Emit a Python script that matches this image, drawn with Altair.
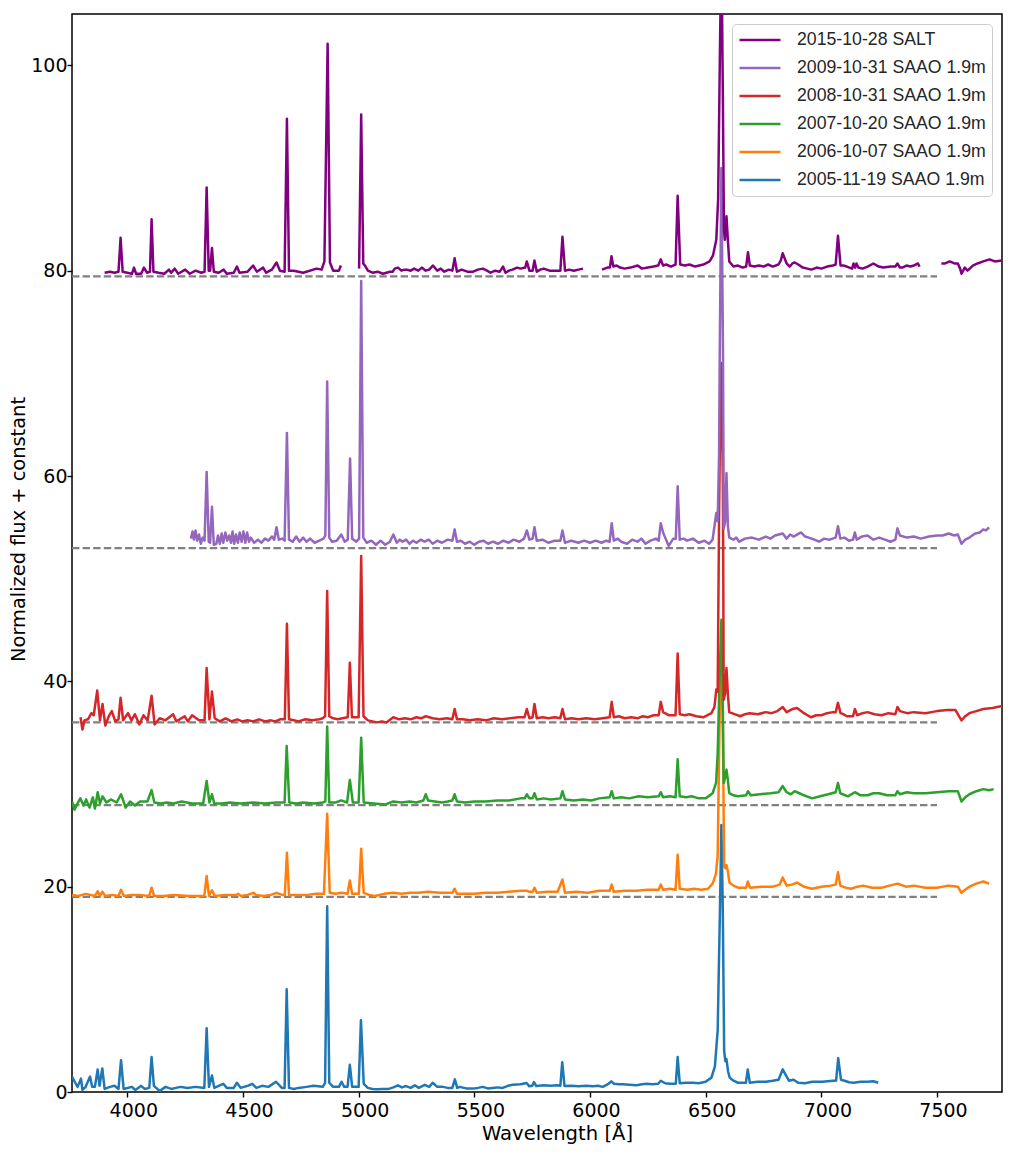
import altair as alt
import pandas as pd

# spectra: [wavelength, flux + offset], None marks a gap
salt_2015 = [
    [3902, 79.8], [3925, 79.9], [3945, 79.8], [3962, 79.9], [3971, 83.2], [3980, 79.9], [4000, 79.8], [4020, 79.7],
    [4029, 80.3], [4038, 79.7], [4060, 79.7], [4072, 80.3], [4085, 79.8], [4098, 79.9], [4105, 85.0], [4113, 79.9],
    [4135, 79.8], [4160, 79.7], [4180, 80.1], [4190, 79.8], [4205, 80.2], [4220, 79.7], [4250, 80.1], [4270, 79.7],
    [4295, 80.0], [4320, 79.8], [4334, 79.9], [4343, 88.1], [4352, 80.0], [4358, 80.0], [4366, 82.2], [4374, 79.9],
    [4395, 79.8], [4417, 80.1], [4430, 79.7], [4460, 79.8], [4474, 80.4], [4485, 79.8], [4520, 79.9], [4544, 80.5],
    [4560, 79.9], [4587, 80.3], [4600, 79.8], [4625, 80.1], [4645, 80.8], [4660, 80.0], [4680, 79.9], [4690, 94.8],
    [4699, 80.0], [4720, 80.0], [4760, 79.8], [4818, 80.2], [4840, 80.1], [4852, 80.9], [4866, 102.1], [4876, 80.8],
    [4890, 80.0], [4915, 80.0], [4923, 80.5], None,
    [5002, 80.2], [5011, 95.2], [5020, 80.7], [5030, 80.4], [5040, 80.0], [5060, 79.8], [5082, 79.9], [5105, 79.7],
    [5120, 79.8], [5135, 79.9], [5147, 79.9], [5156, 80.2], [5170, 80.3], [5185, 80.0], [5197, 80.1], [5208, 80.1],
    [5225, 80.0], [5240, 80.2], [5258, 80.0], [5273, 80.3], [5290, 80.0], [5305, 80.1], [5321, 80.5], [5340, 80.0],
    [5355, 80.2], [5370, 79.9], [5390, 80.1], [5405, 80.0], [5415, 81.2], [5425, 79.9], [5445, 80.1], [5470, 79.9],
    [5495, 79.9], [5515, 80.1], [5537, 80.2], [5555, 80.0], [5570, 79.8], [5590, 80.0], [5610, 79.9], [5624, 80.4],
    [5635, 79.8], [5650, 80.0], [5665, 80.1], [5685, 80.3], [5700, 80.2], [5720, 80.3], [5727, 80.9], [5738, 80.0],
    [5752, 80.0], [5760, 81.0], [5770, 79.9], [5785, 80.1], [5800, 80.2], [5825, 80.0], [5850, 80.0], [5872, 80.0],
    [5881, 83.3], [5892, 80.0], [5910, 80.1], [5930, 80.0], [5950, 80.1], [5970, 80.2], None,
    [6052, 80.1], [6075, 80.3], [6086, 80.3], [6093, 81.4], [6101, 80.4], [6115, 80.5], [6130, 80.3], [6150, 80.2],
    [6175, 80.3], [6206, 80.5], [6225, 80.2], [6250, 80.3], [6275, 80.4], [6295, 80.5], [6306, 81.1], [6316, 80.5],
    [6330, 80.6], [6350, 80.4], [6370, 80.6], [6379, 87.3], [6390, 80.6], [6410, 80.5], [6430, 80.6], [6455, 80.4],
    [6490, 80.6], [6517, 80.9], [6532, 81.5], [6546, 83.0], [6554, 87.0], [6561, 100.0], [6568, 112.0],
    [6574, 98.0], [6579, 84.0], [6583, 83.0], [6590, 85.3], [6596, 83.0], [6602, 80.9], [6620, 80.4], [6640, 80.5],
    [6660, 80.3], [6675, 80.4], [6683, 81.8], [6691, 80.5], [6710, 80.4], [6730, 80.5], [6750, 80.4], [6770, 80.6],
    [6790, 80.4], [6815, 80.6], [6825, 81.0], [6833, 81.7], [6850, 80.7], [6863, 80.4], [6875, 80.7], [6885, 80.8],
    [6900, 80.6], [6920, 80.3], [6940, 80.2], [6957, 80.1], [6980, 80.3], [7000, 80.2], [7025, 80.4], [7050, 80.5],
    [7062, 80.6], [7072, 83.4], [7083, 80.5], [7095, 80.5], [7110, 80.4], [7133, 80.2], [7139, 80.7], [7146, 80.3],
    [7152, 80.7], [7160, 80.3], [7178, 80.2], [7200, 80.4], [7225, 80.7], [7248, 80.4], [7268, 80.3], [7300, 80.4],
    [7320, 80.4], [7329, 80.7], [7340, 80.3], [7350, 80.3], [7368, 80.5], [7385, 80.4], [7400, 80.5], [7417, 80.7],
    [7425, 80.4], None,
    [7519, 80.7], [7535, 80.7], [7555, 80.9], [7575, 80.7], [7590, 80.7], [7600, 80.2], [7606, 79.7], [7620, 80.3],
    [7632, 80.0], [7655, 80.5], [7675, 80.7], [7700, 80.9], [7727, 81.1], [7750, 80.9], [7781, 81.0],
]
saao_2009 = [
    [4275, 53.9], [4282, 54.6], [4288, 53.8], [4295, 54.7], [4302, 53.7], [4310, 54.3], [4318, 53.4], [4326, 54.0],
    [4334, 53.7], [4343, 60.4], [4352, 53.6], [4358, 53.5], [4366, 57.0], [4374, 53.3], [4385, 53.4], [4392, 54.2],
    [4400, 53.4], [4408, 54.4], [4415, 53.5], [4424, 54.5], [4432, 53.7], [4440, 54.2], [4448, 53.5], [4455, 54.6],
    [4462, 53.4], [4470, 54.3], [4478, 53.5], [4486, 54.5], [4494, 53.6], [4502, 54.6], [4510, 53.5], [4518, 54.5],
    [4526, 53.6], [4534, 54.0], [4548, 53.5], [4565, 53.8], [4580, 53.5], [4595, 53.9], [4610, 53.7], [4625, 54.1],
    [4635, 53.8], [4645, 55.0], [4655, 53.8], [4670, 53.9], [4680, 53.7], [4690, 64.2], [4699, 53.8], [4715, 53.6],
    [4730, 54.1], [4745, 53.6], [4760, 54.0], [4775, 53.6], [4790, 53.9], [4810, 53.5], [4830, 53.7], [4848, 53.9],
    [4856, 54.2], [4864, 69.2], [4873, 54.0], [4885, 53.6], [4905, 53.7], [4925, 54.3], [4940, 53.6], [4953, 53.8],
    [4963, 61.7], [4972, 53.9], [4990, 53.6], [5002, 53.9], [5011, 79.0], [5020, 54.0], [5035, 53.5], [5055, 53.7],
    [5075, 53.3], [5095, 53.7], [5115, 53.3], [5135, 53.6], [5150, 54.3], [5165, 53.5], [5178, 53.8], [5190, 53.6],
    [5205, 53.8], [5220, 53.4], [5235, 53.7], [5250, 53.5], [5268, 53.8], [5285, 53.6], [5303, 53.8], [5320, 53.4],
    [5340, 53.7], [5360, 53.5], [5385, 53.8], [5405, 53.7], [5415, 54.8], [5425, 53.6], [5442, 53.7], [5460, 53.4],
    [5480, 53.6], [5500, 53.3], [5520, 53.6], [5540, 53.7], [5560, 53.4], [5580, 53.6], [5603, 53.4], [5625, 53.7],
    [5648, 53.5], [5670, 53.8], [5695, 53.6], [5715, 53.9], [5727, 54.7], [5738, 53.8], [5752, 53.9], [5760, 55.0],
    [5770, 53.7], [5795, 53.8], [5820, 53.5], [5848, 53.7], [5872, 53.7], [5881, 54.7], [5892, 53.5], [5920, 53.7],
    [5950, 53.5], [5975, 53.7], [6000, 53.5], [6025, 53.7], [6050, 53.5], [6070, 53.7], [6085, 53.6], [6094, 55.4],
    [6103, 53.7], [6120, 53.9], [6135, 53.6], [6160, 53.4], [6182, 53.8], [6205, 53.6], [6222, 53.9], [6240, 53.4],
    [6262, 53.7], [6285, 53.9], [6297, 53.7], [6306, 55.4], [6316, 54.5], [6325, 54.0], [6340, 53.2], [6360, 53.9],
    [6371, 53.9], [6379, 59.0], [6388, 53.8], [6405, 53.9], [6420, 53.7], [6445, 53.9], [6470, 53.5], [6495, 53.7],
    [6515, 53.4], [6530, 53.8], [6546, 56.4], [6552, 55.6], [6558, 62.0], [6561, 72.0], [6568, 90.0], [6575, 72.0],
    [6577, 62.0], [6578, 54.9], [6584, 55.5], [6590, 60.3], [6596, 55.2], [6602, 54.0], [6620, 53.8], [6632, 54.0],
    [6645, 53.6], [6670, 53.9], [6700, 54.0], [6730, 53.8], [6760, 54.1], [6780, 53.9], [6800, 54.2], [6833, 54.4],
    [6850, 53.9], [6865, 54.3], [6880, 54.1], [6912, 54.5], [6930, 54.1], [6945, 54.0], [6970, 53.8], [6990, 53.6],
    [7012, 53.9], [7035, 53.8], [7062, 54.0], [7072, 55.1], [7082, 53.9], [7100, 54.0], [7120, 53.7], [7137, 53.8],
    [7145, 54.5], [7153, 53.8], [7175, 54.1], [7200, 54.2], [7225, 53.8], [7250, 54.0], [7275, 53.8], [7300, 53.6],
    [7320, 53.8], [7329, 54.9], [7340, 54.2], [7370, 54.0], [7400, 54.1], [7430, 53.9], [7465, 54.1], [7500, 54.2],
    [7525, 54.2], [7550, 54.4], [7575, 54.2], [7590, 54.3], [7606, 53.4], [7622, 53.8], [7640, 54.0], [7665, 54.4],
    [7685, 54.5], [7700, 54.8], [7712, 54.7], [7725, 55.0],
]
saao_2008 = [
    [3798, 36.5], [3806, 35.3], [3815, 36.2], [3830, 36.3], [3845, 36.9], [3855, 36.7], [3870, 39.1], [3882, 36.2],
    [3893, 37.8], [3905, 35.7], [3920, 36.6], [3933, 37.1], [3948, 36.1], [3962, 36.3], [3971, 38.4], [3982, 36.2],
    [4003, 36.9], [4018, 36.2], [4033, 36.8], [4052, 35.8], [4070, 36.7], [4088, 36.2], [4105, 38.6], [4118, 35.8],
    [4140, 36.4], [4165, 36.2], [4198, 36.8], [4212, 36.1], [4248, 36.6], [4262, 36.1], [4280, 36.7], [4310, 36.2],
    [4334, 36.2], [4343, 41.3], [4355, 36.3], [4366, 39.0], [4378, 36.4], [4400, 36.1], [4425, 36.4], [4450, 36.1],
    [4475, 36.3], [4497, 36.1], [4520, 36.2], [4545, 36.1], [4570, 36.3], [4595, 36.1], [4620, 36.2], [4640, 36.1],
    [4660, 36.3], [4681, 36.3], [4690, 45.6], [4699, 36.3], [4720, 36.2], [4740, 36.1], [4770, 36.3], [4800, 36.2],
    [4830, 36.3], [4845, 36.4], [4855, 36.6], [4864, 48.8], [4873, 36.6], [4890, 36.4], [4910, 36.3], [4930, 36.4],
    [4953, 36.5], [4962, 41.8], [4971, 36.5], [5000, 36.5], [5011, 52.2], [5021, 36.6], [5040, 36.2], [5060, 36.1],
    [5080, 36.0], [5100, 36.1], [5120, 36.0], [5150, 36.5], [5175, 36.3], [5200, 36.4], [5225, 36.3], [5250, 36.5],
    [5270, 36.4], [5290, 36.6], [5320, 36.4], [5350, 36.3], [5380, 36.4], [5405, 36.3], [5415, 37.3], [5425, 36.3],
    [5450, 36.3], [5480, 36.2], [5515, 36.3], [5550, 36.2], [5585, 36.4], [5620, 36.3], [5655, 36.4], [5690, 36.5],
    [5717, 36.5], [5727, 37.3], [5738, 36.4], [5752, 36.5], [5760, 37.8], [5770, 36.4], [5795, 36.5], [5820, 36.4],
    [5848, 36.5], [5872, 36.4], [5881, 37.3], [5892, 36.3], [5920, 36.4], [5950, 36.3], [5985, 36.4], [6020, 36.3],
    [6055, 36.4], [6085, 36.5], [6094, 38.0], [6103, 36.5], [6125, 36.6], [6150, 36.4], [6178, 36.5], [6205, 36.4],
    [6228, 36.6], [6250, 36.5], [6275, 36.7], [6297, 36.7], [6306, 38.0], [6316, 37.0], [6340, 36.7], [6370, 36.7],
    [6379, 42.7], [6388, 36.8], [6410, 36.7], [6430, 36.8], [6460, 36.6], [6490, 36.5], [6525, 36.9], [6538, 37.5],
    [6546, 39.2], [6552, 39.0], [6558, 56.0], [6561, 62.0], [6568, 71.0], [6574, 60.0], [6576, 52.0], [6578, 38.2],
    [6584, 38.8], [6590, 41.3], [6596, 38.8], [6602, 37.0], [6625, 36.8], [6650, 36.6], [6670, 36.8], [6690, 36.9],
    [6725, 36.8], [6760, 37.0], [6785, 36.9], [6810, 37.1], [6833, 37.5], [6850, 37.0], [6875, 37.3], [6895, 37.4],
    [6925, 36.9], [6955, 36.5], [6978, 36.7], [7000, 36.7], [7025, 36.9], [7050, 37.0], [7062, 37.0], [7072, 37.9],
    [7083, 36.9], [7095, 36.8], [7110, 36.6], [7137, 36.6], [7145, 37.3], [7155, 36.7], [7178, 36.9], [7200, 37.0],
    [7230, 36.8], [7260, 36.7], [7290, 36.9], [7320, 36.8], [7329, 37.5], [7340, 37.1], [7370, 36.9], [7400, 37.0],
    [7450, 36.9], [7500, 37.1], [7545, 37.2], [7580, 37.2], [7606, 36.2], [7622, 36.6], [7640, 36.9], [7670, 37.1],
    [7700, 37.3], [7740, 37.4], [7781, 37.6],
]
saao_2007 = [
    [3761, 28.3], [3772, 27.5], [3782, 28.0], [3797, 28.6], [3811, 27.9], [3822, 28.5], [3837, 27.7], [3851, 28.7],
    [3860, 27.6], [3872, 29.2], [3882, 28.1], [3893, 28.8], [3910, 28.2], [3929, 28.5], [3954, 28.2], [3973, 29.0],
    [3993, 27.7], [4012, 28.3], [4033, 27.9], [4055, 28.3], [4087, 28.3], [4105, 29.4], [4117, 28.2], [4145, 28.1],
    [4170, 28.2], [4200, 28.1], [4235, 28.3], [4280, 28.1], [4328, 28.1], [4343, 30.3], [4355, 28.2], [4366, 29.0],
    [4376, 28.1], [4410, 28.1], [4443, 28.2], [4490, 28.1], [4544, 28.2], [4595, 28.1], [4645, 28.2], [4680, 28.2],
    [4689, 33.7], [4700, 28.2], [4730, 28.1], [4760, 28.2], [4805, 28.1], [4845, 28.2], [4856, 28.3], [4864, 35.6],
    [4873, 28.2], [4900, 28.2], [4925, 28.4], [4950, 28.2], [4962, 30.4], [4975, 28.2], [5000, 28.2], [5011, 34.5],
    [5022, 28.2], [5065, 28.1], [5116, 28.0], [5150, 28.3], [5185, 28.2], [5220, 28.3], [5250, 28.2], [5280, 28.4],
    [5290, 29.0], [5300, 28.4], [5330, 28.3], [5360, 28.2], [5385, 28.3], [5405, 28.4], [5415, 29.0], [5425, 28.3],
    [5460, 28.2], [5500, 28.3], [5550, 28.3], [5600, 28.4], [5650, 28.4], [5700, 28.6], [5718, 28.6], [5727, 29.0],
    [5738, 28.6], [5752, 28.6], [5760, 29.1], [5770, 28.5], [5800, 28.6], [5830, 28.5], [5872, 28.6], [5881, 29.3],
    [5892, 28.5], [5930, 28.4], [5970, 28.5], [6005, 28.4], [6040, 28.6], [6085, 28.7], [6094, 29.3], [6103, 28.6],
    [6135, 28.7], [6170, 28.6], [6210, 28.8], [6250, 28.7], [6297, 28.8], [6306, 29.2], [6316, 28.7], [6345, 28.8],
    [6370, 28.7], [6379, 32.4], [6388, 28.8], [6415, 28.7], [6440, 28.8], [6470, 28.6], [6500, 28.6], [6530, 29.1],
    [6545, 30.1], [6552, 33.0], [6560, 40.0], [6568, 46.0], [6573, 40.0], [6578, 30.1], [6584, 30.6], [6590, 31.4],
    [6596, 30.4], [6602, 29.1], [6620, 28.9], [6640, 28.8], [6675, 28.9], [6683, 29.3], [6695, 28.9], [6735, 29.0],
    [6780, 29.1], [6815, 29.2], [6833, 29.8], [6850, 29.2], [6868, 29.0], [6885, 29.3], [6905, 29.1], [6925, 28.9],
    [6960, 28.6], [6995, 28.8], [7030, 29.0], [7062, 29.2], [7072, 30.1], [7082, 29.1], [7115, 28.8], [7145, 29.2],
    [7170, 28.9], [7200, 28.9], [7225, 29.1], [7250, 29.1], [7285, 28.9], [7320, 28.9], [7329, 29.3], [7340, 29.0],
    [7370, 29.2], [7400, 29.1], [7450, 29.1], [7500, 29.2], [7550, 29.3], [7590, 29.3], [7606, 28.3], [7622, 28.7],
    [7640, 29.0], [7670, 29.3], [7700, 29.5], [7725, 29.4], [7745, 29.5],
]
saao_2006 = [
    [3761, 19.2], [3790, 19.1], [3820, 19.3], [3860, 19.1], [3872, 19.55], [3882, 19.1], [3892, 19.5], [3905, 19.1],
    [3935, 19.2], [3962, 19.1], [3973, 19.7], [3985, 19.1], [4015, 19.2], [4050, 19.2], [4095, 19.1], [4105, 19.9],
    [4116, 19.1], [4160, 19.1], [4200, 19.2], [4265, 19.1], [4333, 19.1], [4343, 21.05], [4353, 19.1], [4366, 19.65],
    [4378, 19.1], [4425, 19.2], [4470, 19.2], [4480, 19.3], [4490, 19.1], [4520, 19.2], [4545, 19.4], [4556, 19.2],
    [4590, 19.1], [4620, 19.2], [4645, 19.4], [4670, 19.2], [4681, 19.2], [4690, 23.3], [4699, 19.2], [4740, 19.2],
    [4780, 19.2], [4815, 19.3], [4850, 19.3], [4864, 27.1], [4875, 19.4], [4900, 19.3], [4925, 19.4], [4952, 19.3],
    [4962, 20.6], [4972, 19.3], [5001, 19.3], [5011, 23.7], [5022, 19.4], [5045, 19.2], [5070, 19.1], [5110, 19.3],
    [5150, 19.4], [5185, 19.3], [5220, 19.4], [5260, 19.4], [5300, 19.5], [5350, 19.4], [5405, 19.4], [5415, 19.8],
    [5425, 19.3], [5460, 19.3], [5500, 19.3], [5550, 19.4], [5600, 19.4], [5650, 19.5], [5700, 19.6], [5727, 19.6],
    [5738, 19.5], [5752, 19.5], [5760, 19.9], [5770, 19.4], [5815, 19.5], [5860, 19.5], [5881, 20.7], [5892, 19.4],
    [5940, 19.5], [5990, 19.4], [6040, 19.6], [6085, 19.6], [6094, 20.2], [6103, 19.5], [6150, 19.6], [6200, 19.6],
    [6250, 19.7], [6297, 19.7], [6306, 20.2], [6316, 19.7], [6345, 19.8], [6370, 19.7], [6379, 23.1], [6388, 19.8],
    [6420, 19.7], [6450, 19.8], [6480, 19.7], [6510, 19.8], [6530, 20.3], [6544, 21.2], [6552, 23.0], [6560, 36.0],
    [6568, 44.0], [6574, 36.0], [6580, 22.0], [6585, 21.8], [6590, 22.1], [6596, 21.5], [6603, 20.4], [6620, 20.1],
    [6640, 19.9], [6675, 19.9], [6682, 20.5], [6692, 19.9], [6740, 20.0], [6790, 20.0], [6820, 20.2], [6833, 20.9],
    [6850, 20.1], [6872, 20.2], [6895, 20.4], [6925, 20.0], [6960, 19.8], [7000, 20.0], [7040, 20.1], [7062, 20.2],
    [7072, 21.4], [7082, 20.1], [7105, 19.9], [7130, 19.8], [7155, 20.0], [7180, 20.1], [7220, 19.9], [7260, 19.9],
    [7295, 20.1], [7330, 20.3], [7365, 20.0], [7400, 20.1], [7450, 19.9], [7500, 19.9], [7550, 20.1], [7590, 20.0],
    [7606, 19.4], [7622, 19.7], [7640, 20.0], [7670, 20.3], [7700, 20.5], [7725, 20.3],
]
saao_2005 = [
    [3761, 1.5], [3775, 0.9], [3785, 0.5], [3800, 1.3], [3806, 0.2], [3820, 0.5], [3839, 1.5], [3848, 0.5],
    [3860, 0.5], [3872, 2.2], [3880, 0.6], [3892, 2.3], [3902, 0.3], [3925, 0.5], [3945, 0.6], [3962, 0.3],
    [3973, 3.1], [3984, 0.3], [4020, 0.5], [4035, 0.2], [4060, 0.6], [4075, 0.3], [4095, 0.4], [4105, 3.4],
    [4115, 0.6], [4140, 0.1], [4165, 0.5], [4190, 0.3], [4210, 0.4], [4230, 0.5], [4260, 0.4], [4295, 0.5],
    [4333, 0.4], [4343, 6.2], [4353, 0.5], [4366, 1.6], [4376, 0.4], [4395, 0.6], [4415, 0.8], [4430, 0.4],
    [4460, 0.4], [4474, 0.9], [4490, 0.4], [4520, 0.6], [4540, 0.8], [4558, 0.4], [4582, 0.6], [4610, 0.5],
    [4643, 1.0], [4668, 0.4], [4680, 0.4], [4689, 10.0], [4699, 0.4], [4720, 0.3], [4740, 0.4], [4775, 0.5],
    [4805, 0.6], [4845, 0.5], [4855, 0.9], [4864, 18.1], [4873, 0.9], [4890, 0.5], [4915, 0.5], [4926, 1.0],
    [4938, 0.5], [4952, 0.5], [4962, 2.65], [4972, 0.5], [5000, 0.5], [5010, 7.0], [5022, 0.8], [5040, 0.4],
    [5060, 0.3], [5078, 0.26], [5105, 0.3], [5130, 0.3], [5150, 0.45], [5170, 0.65], [5187, 0.45], [5205, 0.58],
    [5225, 0.4], [5243, 0.65], [5260, 0.4], [5286, 0.7], [5305, 0.5], [5320, 0.9], [5340, 0.5], [5364, 0.5],
    [5385, 0.4], [5405, 0.4], [5416, 1.23], [5426, 0.4], [5437, 0.5], [5465, 0.35], [5494, 0.33], [5515, 0.4],
    [5537, 0.5], [5558, 0.35], [5580, 0.4], [5600, 0.45], [5623, 0.4], [5645, 0.6], [5666, 0.7], [5700, 0.75],
    [5726, 0.88], [5738, 0.55], [5750, 0.6], [5758, 0.97], [5768, 0.58], [5800, 0.65], [5830, 0.6], [5857, 0.65],
    [5872, 0.6], [5880, 2.9], [5890, 0.58], [5920, 0.6], [5950, 0.55], [5985, 0.6], [6012, 0.55], [6035, 0.6],
    [6055, 0.5], [6080, 0.8], [6092, 1.04], [6104, 0.8], [6125, 0.75], [6142, 0.75], [6170, 0.7], [6202, 0.65],
    [6225, 0.75], [6245, 0.8], [6270, 0.75], [6295, 0.8], [6306, 1.1], [6325, 0.85], [6345, 0.8], [6371, 0.8],
    [6379, 3.4], [6388, 0.85], [6415, 0.9], [6445, 0.9], [6470, 0.85], [6500, 1.0], [6525, 1.4], [6540, 2.5],
    [6552, 6.0], [6562, 18.0], [6568, 26.0], [6574, 18.0], [6580, 4.0], [6585, 3.0], [6590, 3.2], [6597, 2.0],
    [6604, 1.4], [6620, 1.1], [6640, 0.9], [6674, 0.9], [6682, 2.2], [6691, 0.9], [6725, 1.0], [6760, 1.0],
    [6790, 1.1], [6815, 1.2], [6833, 2.2], [6860, 1.1], [6880, 1.2], [6900, 0.9], [6930, 0.85], [6960, 1.0],
    [7005, 1.0], [7050, 1.1], [7064, 1.1], [7073, 3.3], [7085, 1.2], [7100, 1.1], [7120, 0.95], [7140, 0.9],
    [7170, 1.0], [7200, 1.0], [7225, 1.05], [7246, 0.9],
]

labels = [
    "2015-10-28 SALT",
    "2009-10-31 SAAO 1.9m",
    "2008-10-31 SAAO 1.9m",
    "2007-10-20 SAAO 1.9m",
    "2006-10-07 SAAO 1.9m",
    "2005-11-19 SAAO 1.9m",
]
colors = ["#800080", "#9467bd", "#d62728", "#2ca02c", "#ff7f0e", "#1f77b4"]
spectra = [salt_2015, saao_2009, saao_2008, saao_2007, saao_2006, saao_2005]
zero_levels = [79.45, 52.97, 36.0, 27.95, 19.0]

# oldest spectrum is drawn first, the legend runs the other way
rows = []
for label, spec in zip(labels[::-1], spectra[::-1]):
    for p in spec:
        if p is None:
            rows.append({"wave": None, "flux": None, "label": label})
        else:
            rows.append({"wave": p[0], "flux": p[1], "label": label})
df = pd.DataFrame(rows)

levels = pd.DataFrame(
    [{"wave": w, "level": z, "which": i} for i, z in enumerate(zero_levels) for w in (3761, 7500)]
)

x_scale = alt.Scale(domain=[3761, 7781], nice=False, zero=False)
y_scale = alt.Scale(domain=[0, 105], nice=False)

dashes = (
    alt.Chart(levels)
    .mark_line(color="#808080", strokeWidth=2.2, strokeDash=[7.4, 3.2], clip=True)
    .encode(
        x=alt.X("wave:Q", scale=x_scale, title="Wavelength [Å]",
                axis=alt.Axis(values=list(range(4000, 8000, 500)), format="d", labelOffset=6,
                              titleX=485, titlePadding=4, titleFontSize=19.6)),
        y=alt.Y("level:Q", scale=y_scale, title="Normalized flux + constant",
                axis=alt.Axis(values=list(range(0, 120, 20)), labelPadding=0,
                              titleX=-44, titleY=515, titleFontSize=19.4)),
        detail="which:N",
    )
)

lines = (
    alt.Chart(df)
    .transform_window(idx="row_number()")
    .mark_line(strokeWidth=2.5, strokeJoin="round", clip=True)
    .encode(
        x=alt.X("wave:Q", scale=x_scale),
        y=alt.Y("flux:Q", scale=y_scale),
        color=alt.Color(
            "label:N",
            scale=alt.Scale(domain=labels, range=colors),
            legend=alt.Legend(
                title=None,
                orient="top-right",
                offset=10,
                zindex=1,
                padding=6,
                fillColor="#ffffff",
                strokeColor="#cccccc",
                cornerRadius=4,
                symbolType="stroke",
                symbolSize=1681,
                symbolStrokeWidth=2.4,
                clipHeight=20,
                rowPadding=8,
                labelOffset=15,
                labelFont="Liberation Sans",
                labelFontSize=17.7,
                labelColor="#262626",
                labelLimit=300,
            ),
        ),
        order=alt.Order("idx:Q"),
    )
)

chart = (
    alt.layer(dashes, lines)
    .properties(
        width=930,
        height=1078,
        autosize=alt.AutoSizeParams(type="none"),
        padding={"left": 64, "top": 6, "right": 7, "bottom": 56},
    )
    .configure_view(stroke="#000000", strokeWidth=1.5)
    .configure_axis(
        grid=False,
        domain=False,
        tickColor="#000000",
        tickWidth=1.4,
        tickSize=5,
        labelColor="#000000",
        titleColor="#000000",
        labelFont="DejaVu Sans",
        titleFont="DejaVu Sans",
        labelFontSize=19,
        titleFontSize=19,
        titleFontWeight="normal",
        labelPadding=4,
    )
)

chart.save("out.html", embed_options={"renderer": "svg", "actions": False})
